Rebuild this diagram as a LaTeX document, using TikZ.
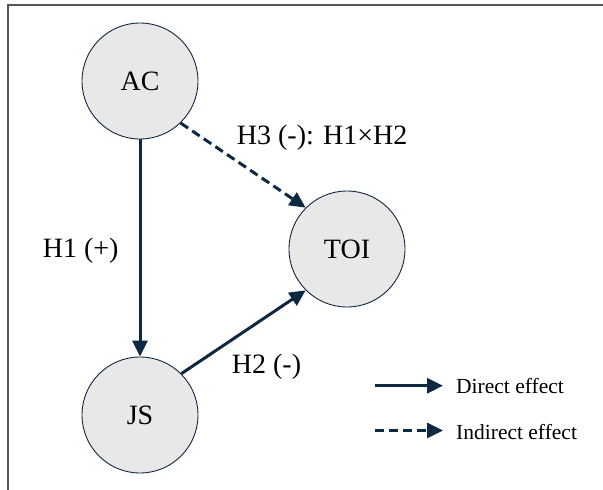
\documentclass[tikz,border=0pt]{standalone}
\usepackage{fontspec}
\setmainfont{Liberation Serif}
\newfontfamily\timesface{Liberation Serif}
\usetikzlibrary{arrows.meta}
\definecolor{navy}{HTML}{0E2841}
\definecolor{nodefill}{HTML}{E8E8E8}
\definecolor{framegray}{HTML}{555555}
\begin{document}
\begin{tikzpicture}[x=1pt,y=-1pt,
  var/.style={circle, draw=navy, line width=0.9pt, fill=nodefill,
    minimum size=116pt, inner sep=0pt, font=\timesface\fontsize{28}{32}\selectfont},
  effect/.style={draw=navy, line width=3pt, -{Triangle[length=16pt,width=15pt]}},
  indirect/.style={effect, dash pattern=on 9pt off 5pt},
  lbl/.style={anchor=base west, inner sep=0pt, font=\timesface\fontsize{28}{32}\selectfont},
  legendtext/.style={anchor=base west, inner sep=0pt, font=\timesface\fontsize{21.5}{24}\selectfont}]
\useasboundingbox (0,0) rectangle (603,490);
% frame along the top and left edges
\draw[framegray, line width=1.5pt] (8,490) -- (8,5) -- (603,5);

% variables
\node[var] (ac) at (140,81) {AC};
\node[var] (toi) at (347,249) {TOI};
\node[var] (js) at (140,415) {JS};

% paths
\draw[effect] (ac) -- (js);
\draw[indirect] (ac.-46) -- (toi.135);
\draw[effect] (js.45) -- (toi.225);

% hypothesis labels
\node[lbl] (h1) at (42.7,257.3) {H1 (+)};
\node[lbl] (h3) at (236.7,144) {H3 (-): H1×H2};
\node[lbl] (h2) at (231.7,373.3) {H2 (-)};

% legend
\coordinate (d0) at (375,385.7);
\coordinate (d1) at (443,385.7);
\draw[effect] (d0) -- (d1);
\coordinate (i0) at (375,430.5);
\coordinate (i1) at (443,430.5);
\draw[indirect] (i0) -- (i1);
\node[legendtext] (dtxt) at (456,393.3) {Direct effect};
\node[legendtext] (itxt) at (456,439) {Indirect effect};
\end{tikzpicture}
\end{document}
